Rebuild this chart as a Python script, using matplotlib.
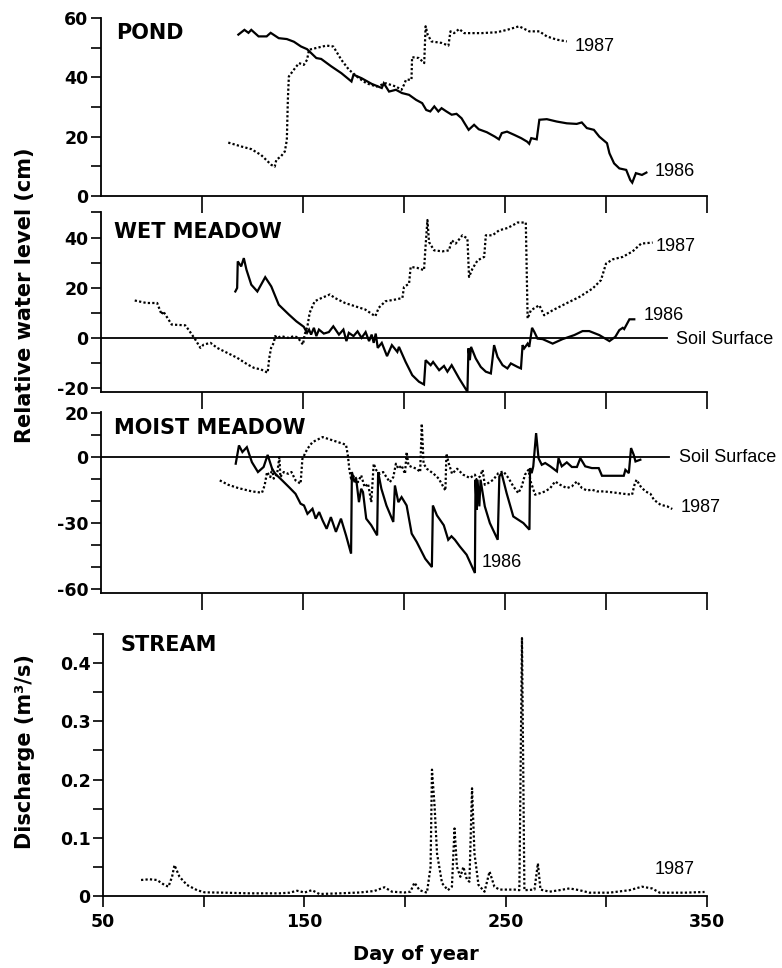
import matplotlib
matplotlib.use("Agg")
import matplotlib.pyplot as plt

# ---------------- data ----------------
pond86_day = [118, 121, 123, 124.4, 128, 132, 134, 138, 142, 145.5, 149, 152, 154, 156.6, 159, 164, 169, 174, 175,
              179, 184, 189, 190, 192.6, 196, 199, 202.5, 206, 209, 211, 213, 215, 217, 218.6, 221, 223.6, 226, 228.5,
              230, 232, 234.7, 237, 241, 245, 247, 248.4, 251, 254.6, 258, 261, 262, 263, 265.7, 267, 270.7, 275.6,
              280.6, 285.5, 288, 290.5, 294, 296.7, 300.5, 301.7, 304, 306.6, 310, 312, 313, 314.8, 317.8, 320]
pond86_val = [54.4, 56, 55, 56, 53.8, 53.8, 55, 53.2, 52.9, 52, 50.4, 49.5, 48.2, 46.5, 46.2, 43.7, 41.4, 38.6, 40.9,
              39.7, 37.8, 36.4, 38, 35.2, 35.8, 34.7, 34.1, 32.4, 31.3, 29, 28.5, 30.2, 28.5, 29.6, 28.5, 27.4, 27.7,
              26.2, 24.5, 22.3, 24, 22.5, 21.5, 20, 19.1, 21.2, 21.7, 20.6, 19.5, 18.3, 17.6, 19.5, 19.1, 25.7, 25.9,
              25.1, 24.5, 24.3, 24.8, 22.9, 22.3, 20, 17.8, 14.4, 11, 9.3, 8.8, 5.4, 4.5, 7.7, 7.1, 7.9]

pond87_day = [113, 117, 119.4, 124.4, 129.3, 134.3, 136, 136.8, 139, 141, 142, 142.5, 143, 145.5, 148, 150.4, 152, 153,
              156.6, 161.6, 165, 169, 172.7, 177.7, 181.4, 186.4, 191, 196, 198.8, 200, 201, 203.7, 204, 207.4, 210,
              210.7, 211.7, 213.6, 218.6, 222, 223, 224.8, 227.3, 229.8, 238.4, 246, 251, 257, 262, 267, 270.7, 275.6,
              280.6]
pond87_val = [18, 17.2, 16.7, 15.8, 13.8, 10.5, 9.9, 12.2, 13.3, 15, 18.9, 32.4, 40.3, 42.6, 44.8, 44.2, 45.9, 49.3,
              49.9, 50.7, 50.4, 45.9, 42.6, 39.7, 38, 36.9, 38, 36.9, 35.8, 37.5, 39.2, 39.2, 46.8, 46.5, 44.8, 57.2,
              54.4, 52.1, 51.6, 50.7, 55.5, 54.9, 56.3, 54.9, 54.9, 55.2, 56, 57.2, 55.5, 55.5, 53.8, 52.7, 52.1]

wet86_day = [116.5, 117.4, 117.7, 119.4, 120.7, 122, 124.4, 127.4, 131.3, 134.3, 138, 143, 146.7, 150.4, 152, 153, 154,
             155.4, 156.6, 157.9, 160.3, 162.8, 165, 167.8, 170, 171.5, 172.7, 175, 177, 179, 181, 182.7, 184, 185, 186,
             187, 189, 191.6, 194, 196.7, 197.5, 200.8, 204.1, 207.4, 209.9, 210.7, 213.2, 214.4, 217.4, 219.8, 221.5,
             223.6, 227.3, 231.4, 231.9, 232.6, 233.2, 235.5, 238, 240.5, 243, 244.6, 246.3, 248.8, 251.2, 252.9, 256.2,
             257.9, 258.7, 259.5, 261.2, 262, 263.4, 264.5, 266.1, 268.6, 273.6, 278.5, 284.3, 288.4, 291.7, 296.7,
             301.7, 304.6, 306.6, 308.3, 309, 311.6, 314]
wet86_val = [18.5, 19.9, 30.5, 28.5, 31.8, 27.2, 21.2, 18.5, 24.2, 20.5, 13.2, 9.3, 6.6, 4.4, 2, 3.3, 1.3, 4, 0.7, 3.3,
             1.7, 2.3, 4.6, 1.3, 3.3, -1.3, 2, 0.7, 2.6, 0, 2.3, -1.3, 1.3, -2, 1.7, -4, -2, -7.3, -2.9, -5.6, -3.6,
             -9.6, -14.9, -17.5, -18.6, -8.9, -10.9, -9.6, -12.9, -11.2, -13.5, -10.9, -16.2, -21.5, -4.2, -8.9, -3.6,
             -8.2, -11.6, -13.5, -14.2, -2.9, -7.6, -10.9, -12.2, -10.2, -11.6, -12.2, -2.9, -4.2, -2.3, -3.6, 4, 2.4,
             -0.3, -0.5, -2.3, -0.5, 1.1, 2.7, 2.7, 1.1, -1.3, 0.4, 3.1, 4, 3.5, 7.4, 7.4]

wet87_day = [66.7, 72.5, 77.8, 80, 80.8, 85, 91.7, 93.3, 96.7, 99.2, 100.8, 104.2, 107.5, 112.5, 117.5, 122.5, 125.8,
             129.2, 132.5, 133.3, 134.2, 135.5, 136.2, 137.5, 139.2, 142.5, 145.8, 147.5, 150, 150.8, 152.2, 153.3,
             155.8, 159.2, 163.3, 165.8, 170.8, 175.8, 180.8, 185.8, 187.5, 190.8, 195.8, 199.2, 200, 202.5, 203.3,
             206.6, 209.9, 210.7, 211.6, 212.4, 214.9, 219, 222.3, 223.6, 225.6, 228.9, 231.4, 232.2, 233.9, 236.4,
             239.7, 240.5, 243.8, 247.1, 251.2, 254.5, 256.2, 260.3, 261.2, 262.8, 267, 269.4, 273.6, 280.2, 286.8,
             293.4, 297.5, 300, 303.3, 308.3, 313.2, 317.4, 323.1]
wet87_val = [14.9, 13.9, 13.9, 9.3, 10.6, 5.3, 5, 3.3, -0.7, -4, -2.7, -2, -4, -6, -8, -10.6, -12, -12.6, -13.9, -8,
             -4, -2, 0.7, 0, 0.7, 0, 0.7, 0, -2.7, 1.3, 4.6, 10, 14.6, 15.9, 17.3, 15.9, 13.9, 12.6, 11.3, 8.6, 12,
             14.6, 15.3, 15.9, 20.3, 21.6, 28.3, 27.9, 27, 36.9, 47, 38.2, 34.9, 34.5, 34.9, 38.9, 37.6, 40.9, 39.6,
             24.3, 27.6, 30.9, 32.3, 40.9, 40.9, 42.9, 43.8, 45.2, 46, 46, 7.7, 11, 13, 9, 11, 13.7, 16.3, 19.7,
             23, 29.6, 31.3, 32.3, 34.5, 37.6, 38]

moist86_day = [116.7, 118.3, 120, 122.2, 124.7, 127.7, 130.5, 132.5, 134.7, 136.3, 139.7, 143, 146.3, 148.8, 150.5,
               152.2, 154.7, 156.3, 158, 159.7, 161.7, 163.8, 166.3, 168.8, 171.3, 173.8, 174.2, 175.5, 176.3, 177.7,
               178.8, 179.7, 181.3, 183.8, 186.7, 187.2, 188.8, 191.3, 194.7, 195.5, 197.2, 198.8, 201.3, 203.8, 206.3,
               210.5, 213.8, 214.3, 216.3, 219.7, 221.9, 223.5, 225.2, 227.6, 231, 235.1, 235.4, 236, 236.4, 237.3,
               237.9, 240, 242.5, 246.4, 247.2, 248.3, 250.8, 254.1, 259.1, 262.1, 262.4, 263.2, 264, 265.4, 266.6,
               268.2, 269.9, 272.4, 275.7, 276.5, 278.1, 280.6, 283.1, 285.6, 287.3, 289.7, 293, 296.4, 298, 308.8,
               309.6, 311.3, 312.4, 313.7, 314.6, 317]
moist86_val = [-3, 5.3, 2.3, 4.5, -2.3, -6.8, -4.5, 1, -5.3, -7.6, -10.6, -13.6, -16.7, -21.2, -22, -25.8, -23.5, -28,
               -25, -28.8, -32.6, -27.3, -34, -28, -35.6, -43.9, -6.8, -11.4, -9.8, -20.5, -14.4, -15.9, -28, -31,
               -35.6, -6.8, -14.4, -22, -29.5, -12.9, -20.5, -18.2, -22, -34.8, -38.6, -46.2, -50, -22, -26.5, -31,
               -37.6, -36, -37.6, -40.6, -44.4, -52.7, -10.3, -23.9, -10.3, -22.4, -10.3, -22.4, -30, -37.6, -8.8,
               -7.3, -16.4, -27, -30, -33, -5, -7.3, -4.2, 10.9, -0.5, -3.5, -2.7, -4.2, -6.5, -0.5, -4.2, -2.4, -4.5,
               -4.5, -0.5, -4.2, -5, -5, -8.5, -8.5, -5.8, -7.3, 4.1, 1.1, -2, -1.2]

moist87_day = [108.8, 113, 118, 124.7, 129.7, 131, 132.2, 133.8, 134.7, 135.5, 137.2, 138.3, 138.8, 140.5, 142.7,
               144.3, 146.3, 148.8, 149.7, 152.2, 154.7, 159.7, 164.7, 171.3, 172.2, 173, 173.8, 175.5, 177.2, 178.8,
               180.5, 182.2, 183.8, 185, 186.3, 188, 189.7, 191.3, 193, 194.7, 196, 197.2, 198.8, 200.5, 201.3, 202.2,
               203.8, 206.3, 208, 208.8, 209.7, 211.3, 214.7, 217.2, 220.5, 221, 222.2, 223.8, 226.3, 228.8, 229.3,
               232.6, 235.1, 235.9, 237.6, 238.9, 240, 241.7, 244.2, 246.7, 249.2, 251.7, 254.1, 256.6, 258.3, 259.9,
               261.6, 262.7, 264.9, 267.4, 269.9, 272.4, 274.8, 277.3, 280.6, 283.1, 285.6, 288.1, 290.6, 293, 295.5,
               298.8, 303.8, 308.8, 312.9, 314.1, 315.1, 317.1, 319.5, 322, 323.7, 327, 330.3, 332.8]
moist87_val = [-10.6, -12.6, -14.1, -15.6, -16.2, -12.9, -6.8, -9.1, -5.3, -9.8, -7.6, 0, -9.1, -6.8, -7.6, -6.8,
               -10.6, -12.1, -0.8, 3.8, 6.8, 9.1, 7.6, 5.6, 0.8, -6, -9.8, -8.3, -11.4, -8.3, -13.6, -12.1, -20.5, -3,
               -6, -7.6, -6.8, -9.1, -11.4, -9.1, -3, -5.3, -3.8, -7.6, 2.3, -3.8, -4.5, -5.3, -6.8, 15.2, -3, -5.3,
               -7.6, -9.8, -15.2, 1.5, -3, -7.6, -5.3, -7.6, -8, -9.5, -8, -10.3, -8.8, -5.8, -12.6, -11.8, -10.3,
               -7.3, -6.5, -9.5, -13.3, -16.4, -13.3, -8, -5.8, -11.1, -17.1, -16.4, -15.6, -14.1, -11.1, -12.6,
               -14.1, -13.3, -11.1, -14.1, -15.2, -14.8, -15.6, -15.6, -16.1, -16.7, -17.1, -12.6, -10.3, -13.3,
               -15.6, -16.7, -19.4, -21.7, -22.4, -23.6]

stream_day = [68.9, 73.1, 76.8, 80.5, 82.5, 84.3, 85.5, 88, 91.7, 96.7, 100.4, 110.3, 122.8, 137.7, 142.6, 146.4,
              150.1, 153.8, 157.5, 167.5, 177.4, 184.8, 189.8, 193.5, 199.7, 202.7, 204.7, 207.2, 210.9, 212.7, 213.4,
              214.7, 215.9, 218.4, 221.3, 223.3, 224.6, 225.8, 227.5, 229, 230.8, 232, 233.3, 234.5, 236.5, 239.5,
              242, 244.4, 246.9, 254.4, 256.8, 258.1, 259.3, 264.3, 266, 267.3, 271.8, 276.7, 281.7, 286.6, 291.6,
              301.6, 311.5, 317.7, 322.7, 326.5, 338.9, 348.8]
stream_val = [0.0275, 0.0287, 0.0275, 0.019, 0.016, 0.033, 0.053, 0.033, 0.019, 0.010, 0.0063, 0.0057, 0.0046,
              0.0046, 0.0057, 0.009, 0.006, 0.010, 0.0034, 0.0046, 0.006, 0.0086, 0.015, 0.0074, 0.006, 0.0074, 0.023,
              0.010, 0.0057, 0.050, 0.217, 0.154, 0.073, 0.022, 0.010, 0.016, 0.116, 0.050, 0.033, 0.050, 0.0275,
              0.0246, 0.185, 0.073, 0.019, 0.0074, 0.042, 0.016, 0.011, 0.011, 0.010, 0.443, 0.010, 0.011, 0.056,
              0.011, 0.0074, 0.010, 0.013, 0.010, 0.0057, 0.0057, 0.010, 0.016, 0.013, 0.0057, 0.0057, 0.0069]

panel_names = ["POND", "WET MEADOW", "MOIST MEADOW", "STREAM"]
year_labels = ["1986", "1987"]
soil_label = "Soil Surface"

# ---------------- figure ----------------
W, H = 782, 968
fig = plt.figure(figsize=(W / 100, H / 100), dpi=100)
BOLD = dict(family="DejaVu Sans", weight="bold")
NORM = dict(family="Liberation Sans")
YR = 13

def ax_at(top_px, bot_px, left_px=101, right_px=707):
    return fig.add_axes([left_px / W, 1 - bot_px / H, (right_px - left_px) / W, (bot_px - top_px) / H])

ax_p = ax_at(18, 196)
ax_w = ax_at(212.5, 392)
ax_m = ax_at(412, 593)
ax_s = ax_at(634, 896, left_px=103)

solid = dict(color="black", lw=1.6, solid_joinstyle="miter")
dots = dict(color="black", lw=1.6, linestyle=(0, (1, 1)))

def style(ax, ylim, yticks, ylabels, bottom_panel=False):
    ax.set_xlim(50, 350)
    ax.set_ylim(*ylim)
    for s in ("top", "right"):
        ax.spines[s].set_visible(False)
    for s in ("left", "bottom"):
        ax.spines[s].set_linewidth(1.3)
    ax.set_yticks(yticks)
    ax.set_yticklabels(ylabels, **BOLD, fontsize=12.5)
    ax.tick_params(axis="y", direction="out", length=7, width=1.2, pad=2)
    if bottom_panel:
        ax.set_xticks([50, 100, 150, 200, 250, 300, 350])
        ax.set_xticklabels(["50", "", "150", "", "250", "", "350"], **BOLD, fontsize=12.5)
        ax.tick_params(axis="x", direction="out", length=8, width=1.2, pad=4)
    else:
        ax.set_xticks([100, 150, 200, 250, 300, 350])
        ax.set_xticklabels([])
        ax.tick_params(axis="x", direction="out", length=12, width=1.2)
    ax.patch.set_alpha(0)

# POND
style(ax_p, (0, 60), range(0, 61, 10), ["0", "", "20", "", "40", "", "60"])
ax_p.plot(pond86_day, pond86_val, **solid)
ax_p.plot(pond87_day, pond87_val, **dots)
ax_p.text(57.5, 55, panel_names[0], **BOLD, fontsize=15, va="center")
ax_p.text(284.5, 50.4, year_labels[1], **NORM, fontsize=YR, va="center", clip_on=False)
ax_p.text(324, 8.2, year_labels[0], **NORM, fontsize=YR, va="center", clip_on=False)

# WET MEADOW
style(ax_w, (-21.6, 50), range(-20, 51, 10), ["-20", "", "0", "", "20", "", "40", ""])
ax_w.plot([50, 330], [0, 0], color="black", lw=1.3)
ax_w.plot(wet86_day, wet86_val, **solid)
ax_w.plot(wet87_day, wet87_val, **dots)
ax_w.text(56.5, 42.3, panel_names[1], **BOLD, fontsize=15, va="center")
ax_w.text(324.5, 36.3, year_labels[1], **NORM, fontsize=YR, va="center", clip_on=False)
ax_w.text(318.5, 9.0, year_labels[0], **NORM, fontsize=YR, va="center", clip_on=False)
ax_w.text(334.5, -0.8, soil_label, **NORM, fontsize=YR, va="center", clip_on=False)

# MOIST MEADOW
style(ax_m, (-61.8, 20.5), range(-60, 21, 10), ["-60", "", "", "-30", "", "", "0", "", "20"])
ax_m.plot([50, 331], [0, 0], color="black", lw=1.3)
ax_m.plot(moist86_day, moist86_val, **solid)
ax_m.plot(moist87_day, moist87_val, **dots)
ax_m.text(56.5, 13.2, panel_names[2], **BOLD, fontsize=15, va="center")
ax_m.text(336, -0.3, soil_label, **NORM, fontsize=YR, va="center", clip_on=False)
ax_m.text(337, -22.8, year_labels[1], **NORM, fontsize=YR, va="center", clip_on=False)
ax_m.text(238.5, -48, year_labels[0], **NORM, fontsize=YR, va="center", clip_on=False)

# STREAM
style(ax_s, (0, 0.45), [i * 0.05 for i in range(10)],
      ["0", "", "0.1", "", "0.2", "", "0.3", "", "0.4", ""], bottom_panel=True)
ax_s.plot(stream_day, stream_val, **dots)
ax_s.text(58.5, 0.431, panel_names[3], **BOLD, fontsize=15, va="center")
ax_s.text(324, 0.045, year_labels[1], **NORM, fontsize=YR, va="center", clip_on=False)

fig.text(25 / W, 1 - 295 / H, "Relative water level (cm)", **BOLD, fontsize=15,
         rotation=90, ha="center", va="center")
fig.text(25 / W, 1 - 752 / H, "Discharge (m\u00b3/s)", **BOLD, fontsize=15,
         rotation=90, ha="center", va="center")
fig.text(416 / W, 1 - 955 / H, "Day of year", **BOLD, fontsize=14, ha="center", va="center")

fig.savefig("out.png", dpi=100)
